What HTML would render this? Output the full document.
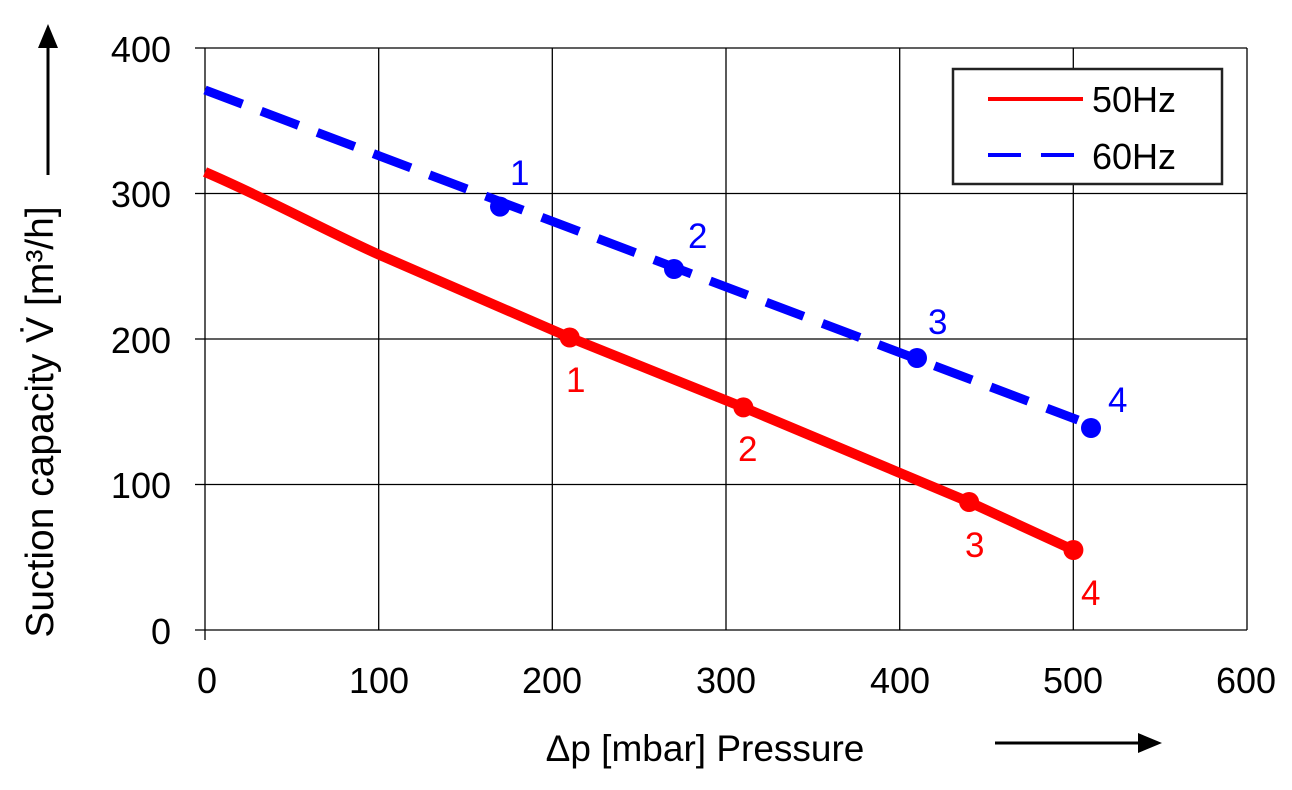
<!DOCTYPE html><html><head><style>body{margin:0;background:#fff}</style></head><body>
<svg width="1292" height="785" xmlns="http://www.w3.org/2000/svg" font-family="Liberation Sans, Arial, sans-serif">
<rect width="1292" height="785" fill="#fff"/>
<g stroke="#000" stroke-width="1.3">
<line x1="205" y1="48" x2="1247" y2="48"/><line x1="205" y1="193.5" x2="1247" y2="193.5"/><line x1="205" y1="339" x2="1247" y2="339"/><line x1="205" y1="484.5" x2="1247" y2="484.5"/><line x1="195" y1="630" x2="1247" y2="630"/>
<line x1="195" y1="48" x2="205" y2="48"/><line x1="195" y1="193.5" x2="205" y2="193.5"/><line x1="195" y1="339" x2="205" y2="339"/><line x1="195" y1="484.5" x2="205" y2="484.5"/>
<line x1="205" y1="48" x2="205" y2="640"/><line x1="378.7" y1="48" x2="378.7" y2="630"/><line x1="552.3" y1="48" x2="552.3" y2="630"/><line x1="726" y1="48" x2="726" y2="630"/><line x1="899.7" y1="48" x2="899.7" y2="630"/><line x1="1073.3" y1="48" x2="1073.3" y2="630"/><line x1="1247" y1="48" x2="1247" y2="630"/>
</g>
<g font-size="36" fill="#000" text-anchor="end">
<text x="171" y="62">400</text><text x="171" y="207">300</text><text x="171" y="353">200</text><text x="171" y="498">100</text><text x="171" y="644">0</text>
</g>
<g font-size="36" fill="#000" text-anchor="middle">
<text x="207" y="693">0</text><text x="379" y="693">100</text><text x="552" y="693">200</text><text x="726" y="693">300</text><text x="900" y="693">400</text><text x="1073" y="693">500</text><text x="1246" y="693">600</text>
<text x="705" y="761" font-size="37">Δp [mbar] Pressure</text>
</g>
<line x1="995" y1="743" x2="1140" y2="743" stroke="#000" stroke-width="3"/><polygon points="1138,733 1162,743 1138,753" fill="#000"/>
<line x1="48" y1="175" x2="48" y2="45" stroke="#000" stroke-width="3"/><polygon points="38,48 48,24 58,48" fill="#000"/>
<text transform="translate(53,422) rotate(-90)" font-size="39" text-anchor="middle">Suction capacity V̇ [m³/h]</text>
<path d="M205,172 C270,200 320,228 378.7,254.6 C450,286 510,312 569.7,337.5 L743.4,407.4 L969.1,502 L1073.4,550" fill="none" stroke="#f00" stroke-width="10"/>
<line x1="205" y1="90" x2="1078" y2="420" stroke="#00f" stroke-width="9" stroke-dasharray="40,20"/>
<g fill="#f00"><circle cx="569.7" cy="337.5" r="10"/><circle cx="743.4" cy="407.4" r="10"/><circle cx="969.1" cy="502" r="10"/><circle cx="1073.4" cy="550" r="10"/></g>
<g fill="#00f"><circle cx="500" cy="206.6" r="10"/><circle cx="674" cy="269" r="10"/><circle cx="917" cy="358" r="10"/><circle cx="1091" cy="428" r="10"/></g>
<g font-size="35" fill="#f00"><text x="566" y="392">1</text><text x="738" y="461">2</text><text x="965" y="557">3</text><text x="1081" y="605">4</text></g>
<g font-size="35" fill="#00f"><text x="510" y="185">1</text><text x="688" y="248">2</text><text x="928" y="334">3</text><text x="1108" y="412">4</text></g>
<rect x="953" y="69" width="269" height="115" fill="#fff" stroke="#222" stroke-width="2.5"/>
<line x1="988" y1="99" x2="1083" y2="99" stroke="#f00" stroke-width="4"/>
<line x1="988" y1="155" x2="1021" y2="155" stroke="#00f" stroke-width="4"/><line x1="1041" y1="155" x2="1074" y2="155" stroke="#00f" stroke-width="4"/>
<text x="1092" y="112" font-size="36">50Hz</text><text x="1092" y="169" font-size="36">60Hz</text>
</svg>
</body></html>
